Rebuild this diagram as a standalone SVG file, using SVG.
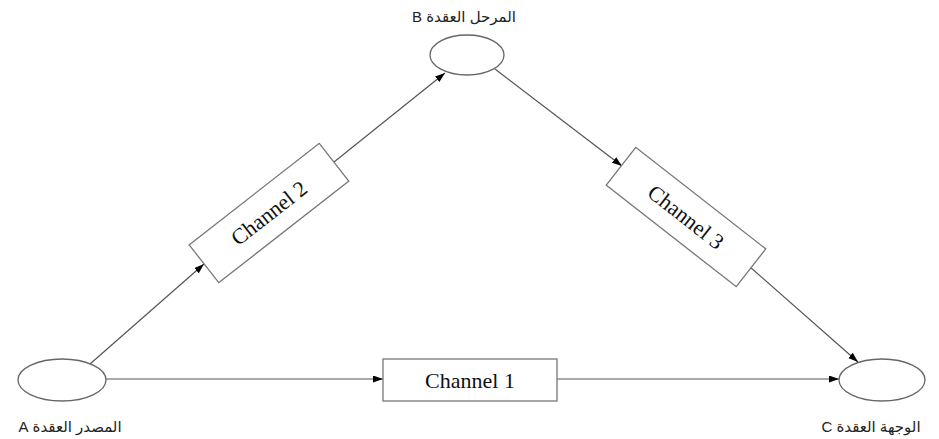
<svg xmlns="http://www.w3.org/2000/svg" width="939" height="439" viewBox="0 0 939 439">
<style>
.node{fill:#fff;stroke:#666;stroke-width:1.3}
.box{fill:#fff;stroke:#777;stroke-width:1.3}
.edge{fill:none;stroke:#555;stroke-width:1.2}
.ch{font-family:"Liberation Serif","Times New Roman",serif;font-size:22px;fill:#111;text-anchor:middle;dominant-baseline:central}
.lab{font-family:"Liberation Sans","DejaVu Sans",sans-serif;font-size:15px;fill:#222;text-anchor:middle;direction:rtl;unicode-bidi:embed}
</style>
<defs>
<marker id="arr" markerWidth="11" markerHeight="8" refX="10" refY="3.5" orient="auto" markerUnits="userSpaceOnUse">
<path d="M0,0 L10,3.5 L0,7 z" fill="#000"/>
</marker>
</defs>
<g id="connectors">
<line class="edge" x1="106" y1="379" x2="383" y2="379" marker-end="url(#arr)"/>
<line class="edge" x1="557" y1="379" x2="839" y2="379" marker-end="url(#arr)"/>
<line class="edge" x1="90" y1="364" x2="204" y2="264" marker-end="url(#arr)"/>
<line class="edge" x1="334" y1="162" x2="445" y2="73" marker-end="url(#arr)"/>
<line class="edge" x1="495" y1="69" x2="622" y2="166" marker-end="url(#arr)"/>
<line class="edge" x1="750" y1="267" x2="858" y2="362" marker-end="url(#arr)"/>
</g>
<g id="nodeA">
<ellipse class="node" cx="62" cy="380" rx="44" ry="21"/>
<text class="lab" x="70" y="432">المصدر العقدة A</text>
</g>
<g id="nodeB">
<ellipse class="node" cx="467" cy="55" rx="37" ry="20"/>
<text class="lab" x="464" y="22">المرحل العقدة B</text>
</g>
<g id="nodeC">
<ellipse class="node" cx="882" cy="380" rx="43" ry="21"/>
<text class="lab" x="871" y="432">الوجهة العقدة C</text>
</g>
<g id="channel1">
<rect class="box" x="383" y="359" width="174" height="42"/>
<text class="ch" x="470" y="380">Channel 1</text>
</g>
<g id="channel2" transform="translate(269,213) rotate(-38)">
<rect class="box" x="-82.5" y="-24" width="165" height="48"/>
<text class="ch" x="0" y="0">Channel 2</text>
</g>
<g id="channel3" transform="translate(686,217) rotate(38)">
<rect class="box" x="-82.5" y="-24" width="165" height="48"/>
<text class="ch" x="0" y="0">Channel 3</text>
</g>
</svg>
